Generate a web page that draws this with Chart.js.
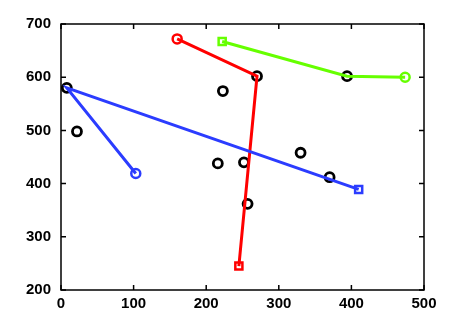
<!DOCTYPE html>
<html>
<head>
<meta charset="utf-8">
<script src="https://cdn.jsdelivr.net/npm/chart.js@4/dist/chart.umd.min.js"></script>
<style>
  html, body { margin: 0; padding: 0; background: #fff; }
  #wrap { width: 469px; height: 327px; }
</style>
</head>
<body>
<div id="wrap"><canvas id="chart"></canvas></div>
<script>
// Donnees
const xTicks = [0, 100, 200, 300, 400, 500];
const yTicks = [200, 300, 400, 500, 600, 700];

// points noirs (cercles)
const pointsX = [8, 22, 270, 223, 394, 216, 252, 330, 370, 257];
const pointsY = [580, 498, 602, 574, 602, 438, 440, 458, 412, 362];

// trajets : cercle au debut, carre a la fin
const blueX = [103, 8, 410];
const blueY = [419, 580, 389];
const redX = [160, 270, 245];
const redY = [672, 602, 245];
const greenX = [474, 394, 222];
const greenY = [600, 602, 667];

function toXY(xs, ys) {
  return xs.map((x, i) => ({ x: x, y: ys[i] }));
}

function pathDataset(xs, ys, color) {
  return {
    data: toXY(xs, ys),
    showLine: true,
    borderColor: color,
    borderWidth: 3,
    backgroundColor: 'rgba(0,0,0,0)',
    pointBorderColor: color,
    pointBorderWidth: 2.5,
    pointStyle: ['circle', 'circle', 'rect'],
    pointRadius: [4.5, 0, 5],
    order: 1
  };
}

// Cadre et graduations vers l'interieur (style matlab)
const boxPlugin = {
  id: 'box',
  afterDatasetsDraw(chart) {
    const ctx = chart.ctx;
    const a = chart.chartArea;
    const sx = chart.scales.x, sy = chart.scales.y;
    const len = 5;
    ctx.save();
    ctx.strokeStyle = '#000';
    ctx.lineWidth = 1.5;
    ctx.strokeRect(a.left, a.top, a.right - a.left, a.bottom - a.top);
    ctx.beginPath();
    xTicks.forEach(v => {
      const px = sx.getPixelForValue(v);
      ctx.moveTo(px, a.bottom); ctx.lineTo(px, a.bottom - len);
      ctx.moveTo(px, a.top); ctx.lineTo(px, a.top + len);
    });
    yTicks.forEach(v => {
      const py = sy.getPixelForValue(v);
      ctx.moveTo(a.left, py); ctx.lineTo(a.left + len, py);
      ctx.moveTo(a.right, py); ctx.lineTo(a.right - len, py);
    });
    ctx.stroke();
    ctx.restore();
  }
};

const tickFont = { family: '"Liberation Sans", Arial, sans-serif', size: 15, weight: 'bold' };

new Chart(document.getElementById('chart'), {
  type: 'scatter',
  data: {
    datasets: [
      pathDataset(blueX, blueY, '#2b3cff'),
      pathDataset(redX, redY, '#ff0000'),
      pathDataset(greenX, greenY, '#66ff00'),
      {
        data: toXY(pointsX, pointsY),
        showLine: false,
        pointStyle: 'circle',
        pointRadius: 4.5,
        pointBorderWidth: 2.8,
        pointBorderColor: '#000',
        pointBackgroundColor: 'rgba(0,0,0,0)',
        order: 2
      }
    ]
  },
  options: {
    responsive: true,
    maintainAspectRatio: false,
    animation: false,
    layout: { padding: { left: 0, top: 24, right: 45, bottom: 0 } },
    plugins: { legend: { display: false }, tooltip: { enabled: false } },
    scales: {
      x: {
        type: 'linear',
        min: 0, max: 500,
        afterBuildTicks: s => { s.ticks = xTicks.map(v => ({ value: v })); },
        afterFit: s => { s.height = 37; },
        grid: { display: false },
        border: { display: false },
        ticks: { color: '#000', font: tickFont, padding: -3, maxRotation: 0 }
      },
      y: {
        type: 'linear',
        min: 200, max: 700,
        afterBuildTicks: s => { s.ticks = yTicks.map(v => ({ value: v })); },
        afterFit: s => { s.width = 61; },
        grid: { display: false },
        border: { display: false },
        ticks: { color: '#000', font: tickFont, padding: 2 }
      }
    }
  },
  plugins: [boxPlugin]
});
</script>
</body>
</html>
